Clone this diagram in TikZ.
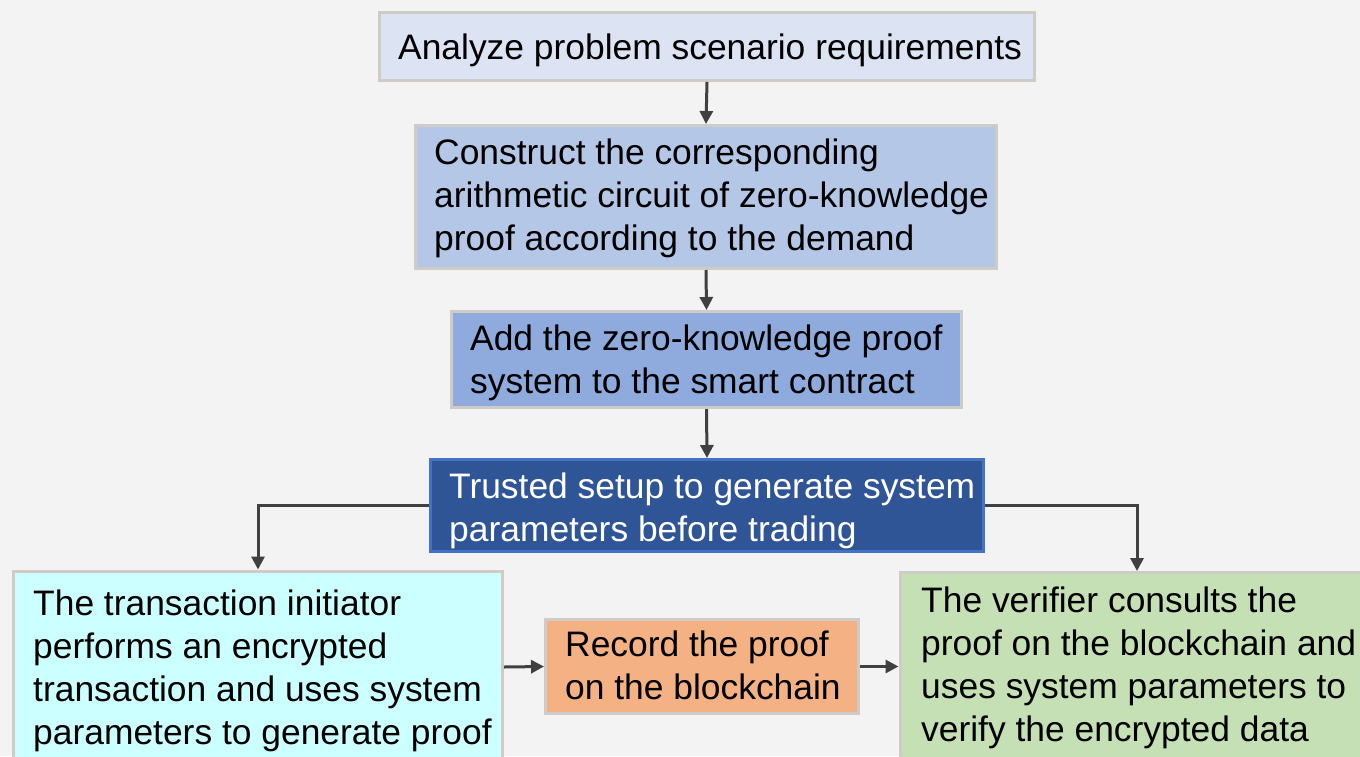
\documentclass[tikz,border=0pt]{standalone}
\usepackage{fontspec}
\setmainfont{Liberation Sans}
\usetikzlibrary{arrows.meta}

\definecolor{bgcol}{HTML}{F3F3F3}
\definecolor{edgegrey}{HTML}{CFCBC6}
\definecolor{arrowgrey}{HTML}{404040}
\definecolor{fillA}{HTML}{DCE3F3}
\definecolor{fillB}{HTML}{B4C7E7}
\definecolor{fillC}{HTML}{8FAADC}
\definecolor{fillD}{HTML}{2F5597}
\definecolor{edgeD}{HTML}{4472C4}
\definecolor{fillE}{HTML}{CCFFFF}
\definecolor{fillF}{HTML}{F4B183}
\definecolor{fillG}{HTML}{C5E0B4}

\begin{document}
\begin{tikzpicture}[x=1pt,y=-1pt,
  box/.style={draw=edgegrey, line width=3pt, rectangle, inner sep=0pt},
  txt/.style={inner sep=0pt, anchor=west, align=left,
    font=\fontsize{35.4pt}{43pt}\selectfont},
  flow/.style={draw=arrowgrey, line width=3pt,
    -{Triangle[length=13pt,width=13pt]}}]

\useasboundingbox (0,0) rectangle (1360,756);
\clip (0,0) rectangle (1360,756);
\fill[bgcol] (0,0) rectangle (1360,756);

% process boxes
\node[box, fill=fillA, minimum width=655pt, minimum height=68pt] (n1) at (707,46.5) {};
\node[box, fill=fillB, minimum width=581pt, minimum height=143pt] (n2) at (706,197) {};
\node[box, fill=fillC, minimum width=510pt, minimum height=96pt] (n3) at (706.5,359.5) {};
\node[box, draw=edgeD, fill=fillD, minimum width=553pt, minimum height=92pt] (n4) at (707,505.5) {};
\node[box, fill=fillE, minimum width=489pt, minimum height=192pt] (n5) at (258,667) {};
\node[box, fill=fillF, minimum width=313pt, minimum height=94pt] (n6) at (702,666.5) {};
\node[box, fill=fillG, minimum width=474pt, minimum height=192pt] (n7) at (1137,668.5) {};

% box texts
\node[txt] (t1) at (398,50) {Analyze problem scenario requirements};
\node[txt] (t2) at (434,198) {Construct the corresponding\\arithmetic circuit of zero-knowledge\\proof according to the demand};
\node[txt] (t3) at (470,363) {Add the zero-knowledge proof\\system to the smart contract};
\node[txt, text=white] (t4) at (449,511) {Trusted setup to generate system\\parameters before trading};
\node[txt] (t5) at (33,671) {The transaction initiator\\performs an encrypted\\transaction and uses system\\parameters to generate proof};
\node[txt] (t6) at (565,665) {Record the proof\\on the blockchain};
\node[txt] (t7) at (921,668) {The verifier consults the\\proof on the blockchain and\\uses system parameters to\\verify the encrypted data};

% connectors
\draw[flow] (n1.south) -- (n2.north);
\draw[flow] (n2.south) -- (n3.north);
\draw[flow] (n3.south) -- (n4.north);
\draw[flow] (n4.west) -| (n5.north);
\draw[flow] (n4.east) -| (n7.north);
\draw[flow] (n5.east) -- (n6.west);
\draw[flow] (n6.east) -- (n7.west |- n6.east);
\end{tikzpicture}
\end{document}
